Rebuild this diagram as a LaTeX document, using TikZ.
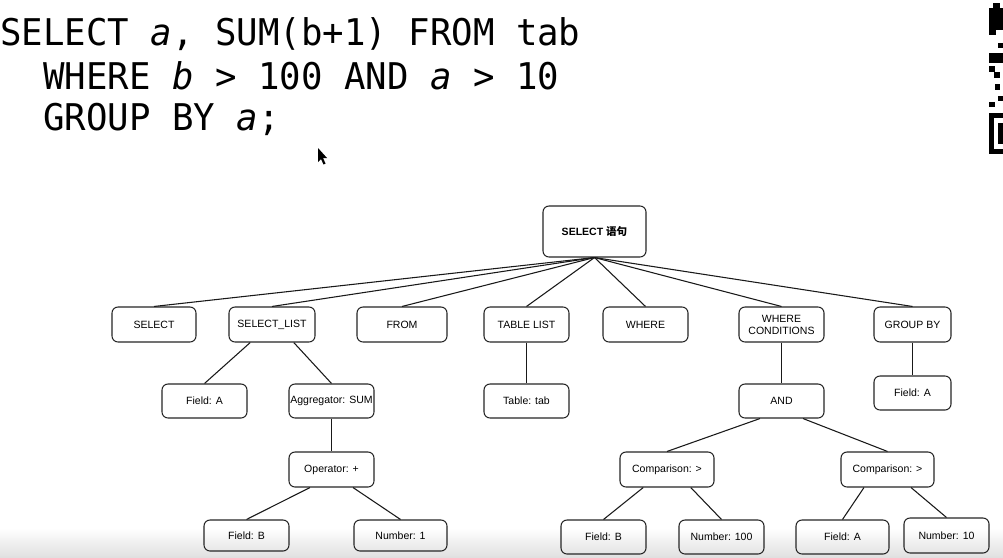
\documentclass[tikz,border=0pt]{standalone}
\usepackage{fontspec}
\setmainfont{Liberation Sans}
\newfontfamily\codefont{DejaVu Sans Mono}[FakeStretch=0.97]
\newfontfamily\cjkfont{Noto Sans CJK SC}
\usetikzlibrary{calc}
\tikzset{
  box/.style={draw=black!85, line width=0.8pt, rounded corners=4.5pt, inner sep=0pt,
    align=center, font=\fontsize{7.9}{8.9}\selectfont},
  sz/.style 2 args={minimum width={0.75pt*#1}, minimum height={0.75pt*#2}},
  link/.style={draw=black!90, line width=0.8pt},
  code/.style={anchor=base west, inner sep=0pt, font=\codefont\fontsize{27.6}{30}\selectfont},
  qr/.style={fill=black, draw=none}
}
\begin{document}
\begin{tikzpicture}[x=0.75pt,y=-0.75pt]
\useasboundingbox (0,0) rectangle (1003,557);
\fill[white] (0,0) rectangle (1003,557);
\shade[top color=white, bottom color=black!12] (0,528) rectangle (1003,557);

% code
\node[code] (l1) at (0,45.5) {SELECT \textit{a}, SUM(b+1) FROM tab};
\node[code] (l2) at (0,89) {\phantom{WW}WHERE \textit{b} > 100 AND \textit{a} > 10};
\node[code] (l3) at (0,130.5) {\phantom{WW}GROUP BY \textit{a};};

% cursor
\fill[black] (318,148) -- (318,162) -- (321,159) -- (323.5,164.5) -- (325.5,163.5) -- (323,158) -- (327,158) -- cycle;

% QR fragment
\fill[qr] (993,3) rectangle (1000,8);
\fill[qr] (989,8) rectangle (1003,30);
\fill[qr] (989,30) rectangle (996,35);
\fill[qr] (998,43) rectangle (1003,48);
\fill[qr] (989,53) rectangle (1003,63);
\fill[qr] (989,66) rectangle (995,72);
\fill[qr] (994,72) rectangle (1000,78);
\fill[qr] (995,84) rectangle (1000,90);
\fill[qr] (998,96) rectangle (1003,101);
\fill[qr] (989,102) rectangle (995,107);
\fill[qr] (989,113) rectangle (1003,154);
\fill[white] (994,118) rectangle (1003,149);
\fill[qr] (998,123) rectangle (1003,144);

% tree
\node[box, sz={103}{51}] (root) at (594.5,231.5) {\bfseries SELECT {\cjkfont\bfseries 语句}};

\node[box, sz={84}{35}] (sel) at (154,324.5) {SELECT};
\node[box, sz={86}{35}] (sl) at (272,324.5) {SELECT\_LIST};
\node[box, sz={90}{35}] (from) at (402,324.5) {FROM};
\node[box, sz={85}{35}] (tl) at (526.5,324.5) {TABLE LIST};
\node[box, sz={85}{35}] (where) at (645.5,324.5) {WHERE};
\node[box, sz={85}{35}] (wc) at (781.5,324.5) {WHERE\\CONDITIONS};
\node[box, sz={77}{35}] (gb) at (912.5,324.5) {GROUP BY};

\node[box, sz={85}{34}] (fa) at (204.5,401) {Field: A};
\node[box, sz={85}{34}] (agg) at (331.5,401) {Aggregator: SUM};
\node[box, sz={85}{34}] (ttab) at (526.5,401) {Table: tab};
\node[box, sz={85}{34}] (and) at (781.5,401) {AND};
\node[box, sz={77}{34}] (gfa) at (912.5,393) {Field: A};

\node[box, sz={85}{35}] (op) at (331.5,469.5) {Operator: +};
\node[box, sz={94}{35}] (c1) at (667,469.5) {Comparison: >};
\node[box, sz={93}{35}] (c2) at (887.5,469.5) {Comparison: >};

\node[box, sz={85}{31}] (fb1) at (246.5,535.5) {Field: B};
\node[box, sz={93}{31}] (n1) at (400.5,535.5) {Number: 1};
\node[box, sz={85}{34}] (fb2) at (603.5,537) {Field: B};
\node[box, sz={85}{34}] (n100) at (721.5,537) {Number: 100};
\node[box, sz={93}{34}] (fa2) at (842.5,537) {Field: A};
\node[box, sz={85}{35}] (n10) at (946.5,535.5) {Number: 10};

% connectors
\foreach \c in {sel,sl,from,tl,where,wc,gb}
  \draw[link] (root.south) -- (\c.north);
\draw[link] ($(sl.south west)!0.25!(sl.south east)$) -- (fa.north);
\draw[link] ($(sl.south west)!0.75!(sl.south east)$) -- (agg.north);
\draw[link] (agg.south) -- (op.north);
\draw[link] ($(op.south west)!0.25!(op.south east)$) -- (fb1.north);
\draw[link] ($(op.south west)!0.75!(op.south east)$) -- (n1.north);
\draw[link] (tl.south) -- (ttab.north);
\draw[link] (wc.south) -- (and.north);
\draw[link] (gb.south) -- (gfa.north);
\draw[link] ($(and.south west)!0.25!(and.south east)$) -- (c1.north);
\draw[link] ($(and.south west)!0.75!(and.south east)$) -- (c2.north);
\draw[link] ($(c1.south west)!0.25!(c1.south east)$) -- (fb2.north);
\draw[link] ($(c1.south west)!0.75!(c1.south east)$) -- (n100.north);
\draw[link] ($(c2.south west)!0.25!(c2.south east)$) -- (fa2.north);
\draw[link] ($(c2.south west)!0.75!(c2.south east)$) -- (n10.north);
\end{tikzpicture}
\end{document}
